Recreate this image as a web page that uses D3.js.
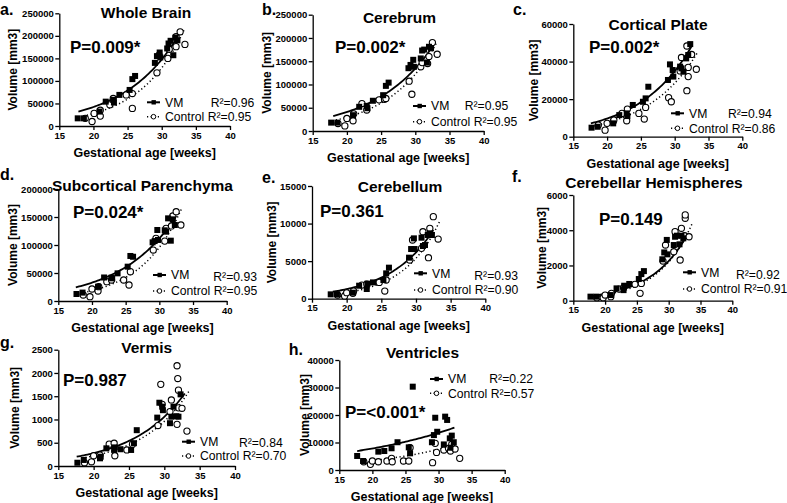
<!DOCTYPE html>
<html><head><meta charset="utf-8">
<script src="https://cdn.jsdelivr.net/npm/d3@7"></script>
<style>
body{margin:0;background:#fff;}
svg{display:block;font-family:"Liberation Sans",Arial,Helvetica,sans-serif;}
</style></head>
<body><svg id="c" width="787" height="503"></svg>
<script>
// ---------- DATA ----------
const xTicks = [15, 20, 25, 30, 35, 40];
const panelLetters = ["a.", "b.", "c.", "d.", "e.", "f.", "g.", "h."];
const panelTitles = ["Whole Brain", "Cerebrum", "Cortical Plate", "Subcortical Parenchyma", "Cerebellum", "Cerebellar Hemispheres", "Vermis", "Ventricles"];
const pValues = ["P=0.009*", "P=0.002*", "P=0.002*", "P=0.024*", "P=0.361", "P=0.149", "P=0.987", "P=<0.001*"];
const r2VM = ["0.96", "0.95", "0.94", "0.93", "0.93", "0.92", "0.84", "0.22"];
const r2Ctl = ["0.95", "0.95", "0.86", "0.95", "0.90", "0.91", "0.70", "0.57"];
const yMax = [250000, 250000, 60000, 200000, 15000, 6000, 2500, 40000];
const yStep = [50000, 50000, 20000, 50000, 5000, 2000, 500, 10000];

const wholeBrainVM = [[17.7,17000],[18.6,17000],[20.9,32000],[21.8,54000],[22.9,58000],[23.0,52000],[23.8,69000],[25.3,80000],[25.7,104000],[26.1,111000],[29.0,140000],[29.3,155000],[29.7,163000],[29.8,152000],[30.8,172000],[31.0,183000],[31.3,189000],[31.7,157000],[32.0,196000],[32.3,190000]];
const wholeBrainCtl = [[18.8,17000],[19.8,10000],[20.1,28000],[21.0,22000],[21.0,35000],[22.4,47000],[22.9,61000],[24.8,69000],[25.7,39000],[25.7,72000],[29.3,118000],[29.6,157000],[30.9,150000],[31.1,170000],[32.1,176000],[32.1,198000],[32.7,209000],[33.4,181000]];
const cerebrumVM = [[17.7,18000],[18.6,18000],[20.9,34000],[21.8,52000],[22.9,54000],[23.0,49000],[23.8,65000],[25.3,77000],[25.7,97000],[26.1,104000],[29.0,135000],[29.3,142000],[29.7,153000],[29.8,138000],[30.8,156000],[31.0,173000],[31.3,175000],[31.7,147000],[32.0,181000],[32.3,178000]];
const cerebrumCtl = [[18.7,16000],[19.7,11000],[20.0,27000],[20.9,22000],[21.0,37000],[22.2,59000],[22.9,45000],[24.7,67000],[25.5,68000],[25.7,70000],[29.1,107000],[29.5,79000],[30.8,138000],[31.0,147000],[31.8,145000],[32.0,160000],[32.5,190000],[33.2,165000]];
const corticalVM = [[17.7,4800],[18.6,5300],[20.9,7100],[21.8,11500],[22.9,12400],[23.0,11000],[23.8,16900],[25.3,18600],[25.7,20400],[26.1,26600],[29.0,30200],[29.3,38500],[29.7,35500],[29.8,32000],[30.8,37300],[31.0,36400],[31.3,34600],[31.7,41700],[32.0,43500],[32.3,49300]];
const corticalCtl = [[18.7,6200],[19.7,3500],[20.0,7100],[20.9,8000],[21.0,8900],[22.2,12400],[22.9,8500],[23.0,14700],[24.7,12400],[25.5,9400],[25.7,15600],[29.1,20800],[29.5,18600],[30.8,35000],[31.0,42200],[31.8,24500],[32.0,32000],[32.0,36900],[31.8,48300],[32.5,43800],[33.2,35900]];
const subcorticalVM = [[17.7,12500],[18.6,15000],[20.9,25600],[21.8,42000],[22.9,41700],[23.0,40500],[23.8,49400],[25.3,61300],[25.7,80400],[26.1,79000],[29.0,104800],[29.3,107000],[29.7,126800],[29.8,109000],[30.8,126200],[31.0,123800],[31.3,147600],[31.7,107700],[32.0,145800],[32.3,135700]];
const subcorticalCtl = [[18.7,10700],[19.7,7700],[20.0,21400],[20.9,17900],[21.0,25600],[22.2,34500],[22.9,37500],[24.7,37500],[25.5,28600],[25.7,52400],[29.1,91000],[29.5,112000],[30.8,107000],[31.0,129800],[31.8,134000],[32.0,151800],[32.5,159500],[33.2,135700]];
const cerebellumVM = [[17.7,580],[18.6,580],[20.9,800],[21.8,1730],[22.9,1290],[23.0,2000],[23.8,2170],[25.3,2490],[25.7,3370],[26.1,4130],[29.0,5460],[29.3,6610],[29.7,8030],[29.8,6610],[30.8,8120],[31.0,7010],[31.3,7140],[31.7,8480],[32.0,8700],[32.3,8480]];
const cerebellumCtl = [[18.7,490],[19.7,350],[20.0,800],[20.9,710],[21.0,1020],[22.2,1820],[22.9,1950],[24.7,2170],[25.5,1020],[25.7,2490],[29.1,5150],[29.5,7810],[30.8,6700],[31.0,8920],[31.8,5460],[32.0,9360],[32.5,10920],[33.2,7940]];
const hemispheresVM = [[17.7,230],[18.6,230],[20.9,320],[21.8,700],[22.9,600],[23.0,850],[23.8,950],[25.3,1230],[25.7,1510],[26.1,1680],[29.0,2350],[29.3,2740],[29.7,3450],[29.8,2630],[30.8,3160],[31.0,3630],[31.3,3690],[31.7,3200],[32.0,3690],[32.3,3540]];
const hemispheresCtl = [[18.7,170],[19.7,170],[20.0,320],[20.9,230],[21.0,420],[22.2,660],[22.9,740],[24.7,930],[25.5,420],[25.7,980],[29.1,2250],[29.5,3160],[30.8,2780],[31.0,3920],[31.8,2310],[32.0,4110],[32.6,4680],[32.6,4870],[32.5,3690],[33.2,3630]];
const vermisVM = [[17.7,70],[18.6,130],[20.9,165],[21.0,200],[21.8,380],[22.9,345],[23.0,400],[23.8,360],[25.3,345],[25.7,490],[26.1,770],[29.0,1040],[29.3,1360],[29.7,1275],[29.8,1200],[30.8,920],[31.0,1060],[31.3,1275],[31.7,1070],[32.0,1060],[32.3,1540]];
const vermisCtl = [[18.7,70],[19.7,90],[20.0,220],[20.9,235],[22.2,470],[22.9,490],[23.0,220],[24.7,345],[25.5,470],[29.1,870],[29.5,1755],[29.7,1325],[30.8,1170],[31.0,1420],[31.8,2155],[31.9,1880],[32.0,1630],[31.8,895],[32.0,1250],[32.5,1240],[33.2,750]];
const ventriclesVM = [[17.7,5100],[18.6,3270],[20.9,6670],[21.8,6900],[22.9,7900],[23.8,10100],[25.5,8240],[25.7,6060],[26.1,30300],[29.0,10100],[29.3,12700],[29.5,19000],[29.8,13900],[30.8,9300],[31.0,19400],[31.3,18200],[31.7,11500],[32.0,12500],[32.3,10100],[31.8,8100]];
const ventriclesCtl = [[18.7,3000],[19.7,2060],[20.0,3270],[20.9,3000],[22.2,3270],[22.9,4240],[23.0,3000],[24.7,3270],[25.5,3270],[25.7,8100],[29.1,2670],[29.5,9700],[29.7,6400],[30.8,7270],[31.5,7880],[31.8,6900],[32.0,9330],[32.5,7630],[33.2,4240]];

// exponential fit lines: [xStart, xEnd, yStart, yEnd]
const fitVM = [[17.8,32.5,32000,202000],[18.0,32.5,32200,181000],[17.6,32.6,7100,48800],[17.6,32.5,24400,152000],[18.0,32.5,930,9140],[18.0,32.9,280,3730],[17.6,32.9,200,1560],[17.7,32.4,6900,15400]];
const fitCtl = [[18.5,33.3,22000,214000],[18.4,33.2,23600,192000],[18.0,33.3,5700,44400],[18.2,33.3,13700,165000],[18.3,33.5,580,10470],[18.0,33.7,230,4390],[18.3,33.5,170,1610],[18.4,32.4,3030,9090]];

const seriesVM = [wholeBrainVM, cerebrumVM, corticalVM, subcorticalVM, cerebellumVM, hemispheresVM, vermisVM, ventriclesVM];
const seriesCtl = [wholeBrainCtl, cerebrumCtl, corticalCtl, subcorticalCtl, cerebellumCtl, hemispheresCtl, vermisCtl, ventriclesCtl];

// ---------- LAYOUT ----------
// x0: y-axis px, x1: px of x=40, yb: px of 0, yt: px of max
// lg: [line start x, VM row y, Control row y, VM R² x, VM R² dy]
const layout = [
  {x0:59.3,x1:230,yb:126,yt:13.3, lt:[0,14.5], tt:[146,18], pt:[70,53], lg:[147,102.3,116.7,210.7,0], ylx:-46},
  {x0:312.7,x1:483.7,yb:131,yt:14.7, lt:[262,14.5], tt:[399.5,23], pt:[335,53], lg:[413,106,121.7,464.7,0], ylx:-46},
  {x0:573.3,x1:742.3,yb:136.7,yt:24, lt:[513,14.5], tt:[658,30], pt:[589,53], lg:[671,113.3,128.3,728,0], ylx:-39},
  {x0:58.3,x1:226.7,yb:301,yt:189, lt:[0,180], tt:[142.5,191], pt:[73,218], lg:[153,275,291,213.3,2], ylx:-45},
  {x0:312,x1:485.3,yb:298.7,yt:186, lt:[262,183], tt:[400,191.5], pt:[320,216.5], lg:[414,273.3,290,474.3,2], ylx:-40},
  {x0:573.3,x1:732.3,yb:300.7,yt:195, lt:[512,181.7], tt:[654,188], pt:[599,225], lg:[683,272.3,289,736,2], ylx:-31},
  {x0:58.3,x1:235,yb:466,yt:349.7, lt:[0,348.3], tt:[146.7,353], pt:[63,386], lg:[182,441.7,456,239,1], ylx:-43},
  {x0:339.3,x1:504.7,yb:470,yt:360, lt:[288.7,355], tt:[422.5,358], pt:[345,418], lg:[430,379,393.3,489.3,0], ylx:-34}
];

const svg = d3.select("#c");
svg.append("rect").attr("width",787).attr("height",503).attr("fill","#fff");

function expCurve(f){
  const [xa,xb,ya,yb]=f; const b=Math.log(yb/ya)/(xb-xa);
  return d3.range(0,61).map(i=>{const x=xa+(xb-xa)*i/60; return [x, ya*Math.exp(b*(x-xa))];});
}
const fmt = d3.format("d");

layout.forEach((L,i)=>{
  const g = svg.append("g");
  const x = d3.scaleLinear().domain([15,40]).range([L.x0,L.x1]);
  const y = d3.scaleLinear().domain([0,yMax[i]]).range([L.yb,L.yt]);

  const xa = g.append("g").attr("transform",`translate(0,${L.yb})`)
    .call(d3.axisBottom(x).tickValues(xTicks).tickSize(4).tickSizeOuter(0).tickPadding(2));
  const ya = g.append("g").attr("transform",`translate(${L.x0},0)`)
    .call(d3.axisLeft(y).tickValues(d3.range(0,yMax[i]+1,yStep[i])).tickFormat(fmt).tickSize(4).tickSizeOuter(0).tickPadding(1.5));
  [xa,ya].forEach(a=>{
    a.select(".domain").attr("stroke","#000").attr("stroke-width",1.3);
    a.selectAll(".tick line").attr("stroke","#000").attr("stroke-width",1.3);
    a.selectAll(".tick text").attr("fill","#000").attr("font-size","9.5px").attr("font-weight","bold")
      .attr("font-family","Liberation Sans, Arial, sans-serif");
  });

  // axis titles
  g.append("text").attr("x",(L.x0+L.x1)/2).attr("y",L.yb+31).attr("text-anchor","middle")
    .attr("font-size","12.5px").attr("font-weight","bold").text("Gestational age [weeks]");
  g.append("text").attr("transform",`translate(${L.x0+L.ylx+4},${(L.yb+L.yt)/2}) rotate(-90)`)
    .attr("text-anchor","middle").attr("font-size","12px").attr("font-weight","bold").text("Volume [mm3]");

  // letter, title, P
  g.append("text").attr("x",L.lt[0]).attr("y",L.lt[1]).attr("font-size","16px").attr("font-weight","bold").text(panelLetters[i]);
  g.append("text").attr("x",L.tt[0]).attr("y",L.tt[1]).attr("text-anchor","middle").attr("font-size","15.5px").attr("font-weight","bold").text(panelTitles[i]);
  g.append("text").attr("x",L.pt[0]).attr("y",L.pt[1]).attr("font-size","17px").attr("font-weight","bold").text(pValues[i]);

  // fit lines
  const line = d3.line().x(d=>x(d[0])).y(d=>y(d[1]));
  g.append("path").attr("d",line(expCurve(fitVM[i]))).attr("fill","none").attr("stroke","#000").attr("stroke-width",1.8);
  g.append("path").attr("d",line(expCurve(fitCtl[i]))).attr("fill","none").attr("stroke","#000").attr("stroke-width",1.5)
    .attr("stroke-dasharray","1.2,2.6");

  // points
  g.selectAll(null).data(seriesCtl[i]).enter().append("circle")
    .attr("cx",d=>x(d[0])).attr("cy",d=>y(d[1])).attr("r",3.1)
    .attr("fill","#fff").attr("stroke","#000").attr("stroke-width",1.1);
  g.selectAll(null).data(seriesVM[i]).enter().append("rect")
    .attr("x",d=>x(d[0])-3).attr("y",d=>y(d[1])-3).attr("width",6).attr("height",6).attr("fill","#000");

  // legend
  const [lx,ly1,ly2,rx,rdy]=L.lg;
  g.append("line").attr("x1",lx).attr("x2",lx+13).attr("y1",ly1).attr("y2",ly1).attr("stroke","#000").attr("stroke-width",2);
  g.append("rect").attr("x",lx+4.5).attr("y",ly1-2.2).attr("width",4.4).attr("height",4.4).attr("fill","#000");
  g.append("text").attr("x",lx+18).attr("y",ly1+4.3).attr("font-size","12.2px").text("VM");
  g.append("text").attr("x",rx).attr("y",ly1+4.3+rdy).attr("font-size","12.2px").text("R²=" + r2VM[i]);
  g.append("line").attr("x1",lx).attr("x2",lx+13).attr("y1",ly2).attr("y2",ly2).attr("stroke","#000").attr("stroke-width",1.5).attr("stroke-dasharray","1.2,2.4");
  g.append("circle").attr("cx",lx+6.5).attr("cy",ly2).attr("r",2.3).attr("fill","#fff").attr("stroke","#000").attr("stroke-width",1);
  g.append("text").attr("x",lx+18).attr("y",ly2+4.3).attr("font-size","12.2px").text("Control R²=" + r2Ctl[i]);
});
</script></body></html>
